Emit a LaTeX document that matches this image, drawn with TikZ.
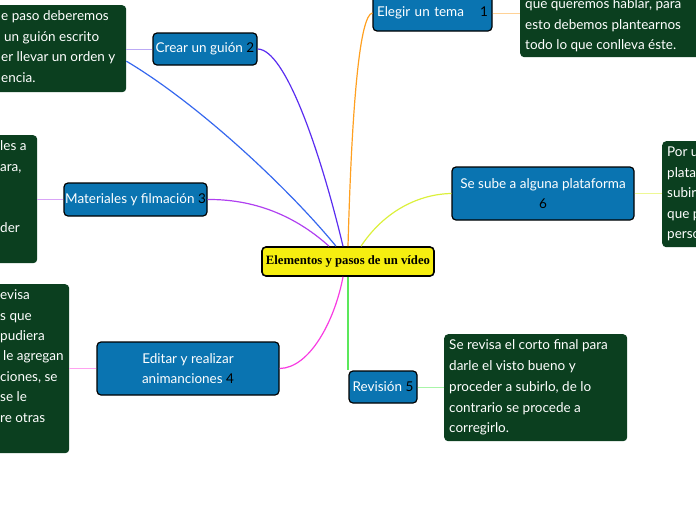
\documentclass[tikz,border=0pt]{standalone}
\usepackage{fontspec}
\setmainfont{Lato}
\newfontfamily\titlefont{Liberation Serif}
\definecolor{tblue}{HTML}{0A74B1}
\definecolor{ngreen}{HTML}{0B3F1F}
\definecolor{cyellow}{HTML}{F6EE10}
\definecolor{corange}{HTML}{FFA020}
\definecolor{lorange}{HTML}{FFD296}
\definecolor{cviolet}{HTML}{5A2DF0}
\definecolor{lviolet}{HTML}{BBAAF5}
\definecolor{cblue}{HTML}{3668EE}
\definecolor{cpurple}{HTML}{B040F0}
\definecolor{lpurple}{HTML}{D9A4F7}
\definecolor{cmagenta}{HTML}{F83CE2}
\definecolor{lmagenta}{HTML}{FFA2F0}
\definecolor{cgreen}{HTML}{5BE85B}
\definecolor{lgreen}{HTML}{A8F5A8}
\definecolor{cyg}{HTML}{DCF03C}
\definecolor{lyg}{HTML}{EEF894}
\tikzset{
  topic/.style={draw=black, line width=1.2pt, fill=tblue, rounded corners=4pt, text=white, inner sep=0pt, font=\fontsize{13.5}{20.5}\selectfont, align=center},
  central/.style={draw=black, line width=1.6pt, fill=cyellow, rounded corners=4pt, inner sep=0pt, font=\titlefont\bfseries\fontsize{12.7}{15}\selectfont},
  note/.style={fill=ngreen, rounded corners=4pt, inner sep=0pt, anchor=north west},
  notetext/.style={text=white, align=left, anchor=north west, inner sep=0pt, font=\fontsize{13.5}{20.5}\selectfont},
  conn/.style={line width=1.2pt},
  lconn/.style={line width=1pt},
}
\newcommand{\fl}{\rule{0pt}{11pt}}
\begin{document}
\begin{tikzpicture}[x=1pt,y=-1pt]
\useasboundingbox (0,0) rectangle (696,520);
\clip (0,0) rectangle (696,520);
% notes
\node[note, minimum width=136pt, minimum height=87pt] (n2) at (-10,5) {};
\node[notetext] (t2) at (1,9.4) {\fl e paso deberemos\\\hspace{3pt}un guión escrito\\er llevar un orden y\\encia.};
\node[note, minimum width=186pt, minimum height=67pt] (n1) at (520,-10) {};
\node[notetext] (t1) at (525,-2.6) {\fl que queremos hablar, para\\esto debemos plantearnos\\todo lo que conlleva éste.};
\node[note, minimum width=47pt, minimum height=128pt] (n3) at (-10,135) {};
\node[notetext] (t3) at (0,139.4) {\fl les a\\ara,\\\mbox{}\\\mbox{}\\der};
\node[note, minimum width=79pt, minimum height=169pt] (n4) at (-10,284) {};
\node[notetext, font=\fontsize{13.5}{20.4}\selectfont] (t4) at (0,288.4) {\fl evisa\\s que\\pudiera\\\hspace{3pt}le agregan\\ciones, se\\se le\\re otras};
\node[note, minimum width=183pt, minimum height=107pt] (n5) at (444,334) {};
\node[notetext, font=\fontsize{13.5}{20.8}\selectfont] (t5) at (449,338.4) {\fl Se revisa el corto final para\\darle el visto bueno y\\proceder a subirlo, de lo\\contrario se procede a\\corregirlo.};
\node[note, minimum width=44pt, minimum height=106pt] (n6) at (662,141) {};
\node[notetext] (t6) at (667,145.4) {\fl Por u\\plata\\subir\\que p\\perso};
% central
\node[central, minimum width=172pt, minimum height=29pt] (c) at (348,261.5) {Elementos y pasos de un vídeo};
% topics
\node[topic, minimum width=119pt, minimum height=36pt, text width=111pt, align=left] (e1) at (432.5,13) {Elegir un tema\hfill{\color{black}1}};
\node[topic, minimum width=104pt, minimum height=32pt] (e2) at (205,49) {Crear un guión {\color{black}2}};
\node[topic, minimum width=143pt, minimum height=33pt] (e3) at (135.5,199.5) {Materiales y filmación {\color{black}3}};
\node[topic, minimum width=182pt, minimum height=53pt] (e4) at (188,368.5) {Editar y realizar\\animanciones {\color{black}4}};
\node[topic, minimum width=68pt, minimum height=32pt] (e5) at (383,387) {Revisión {\color{black}5}};
\node[topic, minimum width=182pt, minimum height=53pt] (e6) at (543,193.5) {Se sube a alguna plataforma\\{\color{black}6}};
% connectors
\draw[conn, corange] (c.north) .. controls (352,100) and (360,15) .. (e1.west);
\draw[conn, cviolet] (e2.east) .. controls (285,49) and (320,150) .. ([xshift=-5pt]c.north);
\draw[conn, cblue] ([yshift=-12.5pt]n2.east) .. controls (200,105) and (290,190) .. ([xshift=-12pt]c.north);
\draw[conn, cpurple] (e3.east) .. controls (260,199) and (300,220) .. ([xshift=-19pt]c.north);
\draw[conn, cmagenta] (e4.east) .. controls (310,368) and (335,320) .. ([xshift=-5pt]c.south);
\draw[conn, cgreen] (c.south) -- (e5.north -| c.south);
\draw[conn, cyg] ([xshift=13pt]c.north) .. controls (385,210) and (420,194) .. (e6.west);
\draw[lconn, lorange] (e1.east) -- (e1.east -| n1.west);
\draw[lconn, lviolet] (e2.west) -- (e2.west -| n2.east);
\draw[lconn, lpurple] (e3.west) -- (e3.west -| n3.east);
\draw[lconn, lmagenta] (e4.west) -- (e4.west -| n4.east);
\draw[lconn, lgreen] (e5.east) -- (e5.east -| n5.west);
\draw[lconn, lyg] (e6.east) -- (e6.east -| n6.west);
\end{tikzpicture}
\end{document}
